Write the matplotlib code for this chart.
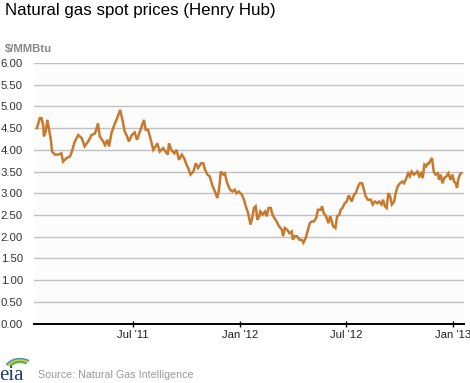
import matplotlib
matplotlib.use("Agg")
import matplotlib.pyplot as plt
import numpy as np
import pandas as pd
from matplotlib.patches import Arc

dates = [
    "2011-01-17", "2011-01-22", "2011-01-25", "2011-01-28", "2011-01-29", "2011-02-01",
    "2011-02-04", "2011-02-07", "2011-02-10", "2011-02-12", "2011-02-17", "2011-02-23",
    "2011-02-28", "2011-03-03", "2011-03-09", "2011-03-15", "2011-03-19", "2011-03-23",
    "2011-03-29", "2011-04-04", "2011-04-09", "2011-04-15", "2011-04-21", "2011-04-27",
    "2011-05-02", "2011-05-05", "2011-05-11", "2011-05-14", "2011-05-18", "2011-05-21",
    "2011-05-25", "2011-05-31", "2011-06-04", "2011-06-09", "2011-06-13", "2011-06-17",
    "2011-06-21", "2011-06-24", "2011-06-29", "2011-07-04", "2011-07-08", "2011-07-13",
    "2011-07-17", "2011-07-20", "2011-07-23", "2011-07-27", "2011-07-31", "2011-08-05",
    "2011-08-09", "2011-08-12", "2011-08-16", "2011-08-22", "2011-08-26", "2011-08-30",
    "2011-09-01", "2011-09-05", "2011-09-10", "2011-09-14", "2011-09-18", "2011-09-23",
    "2011-09-27", "2011-10-01", "2011-10-04", "2011-10-08", "2011-10-13", "2011-10-17",
    "2011-10-21", "2011-10-26", "2011-10-30", "2011-11-02", "2011-11-06", "2011-11-10",
    "2011-11-14", "2011-11-19", "2011-11-23", "2011-11-26", "2011-11-29", "2011-12-03",
    "2011-12-06", "2011-12-10", "2011-12-15", "2011-12-19", "2011-12-23", "2011-12-26",
    "2011-12-30", "2012-01-04", "2012-01-08", "2012-01-11", "2012-01-15", "2012-01-19",
    "2012-01-22", "2012-01-25", "2012-01-28", "2012-01-31", "2012-02-03", "2012-02-05",
    "2012-02-09", "2012-02-13", "2012-02-16", "2012-02-19", "2012-02-23", "2012-02-25",
    "2012-02-29", "2012-03-04", "2012-03-08", "2012-03-13", "2012-03-15", "2012-03-18",
    "2012-03-22", "2012-03-26", "2012-03-30", "2012-04-01", "2012-04-04", "2012-04-08",
    "2012-04-12", "2012-04-16", "2012-04-19", "2012-04-23", "2012-04-26", "2012-04-30",
    "2012-05-03", "2012-05-07", "2012-05-11", "2012-05-14", "2012-05-19", "2012-05-21",
    "2012-05-24", "2012-05-28", "2012-06-01", "2012-06-04", "2012-06-06", "2012-06-09",
    "2012-06-13", "2012-06-16", "2012-06-20", "2012-06-22", "2012-06-25", "2012-06-29",
    "2012-07-02", "2012-07-06", "2012-07-11", "2012-07-15", "2012-07-18", "2012-07-22",
    "2012-07-25", "2012-07-29", "2012-08-01", "2012-08-04", "2012-08-08", "2012-08-13",
    "2012-08-16", "2012-08-20", "2012-08-24", "2012-08-27", "2012-08-31", "2012-09-03",
    "2012-09-06", "2012-09-09", "2012-09-12", "2012-09-15", "2012-09-18", "2012-09-22",
    "2012-09-24", "2012-09-28", "2012-10-02", "2012-10-06", "2012-10-09", "2012-10-13",
    "2012-10-16", "2012-10-19", "2012-10-22", "2012-10-26", "2012-10-29", "2012-11-01",
    "2012-11-04", "2012-11-07", "2012-11-10", "2012-11-13", "2012-11-16", "2012-11-19",
    "2012-11-21", "2012-11-24", "2012-11-26", "2012-11-29", "2012-12-02", "2012-12-06",
    "2012-12-08", "2012-12-11", "2012-12-14", "2012-12-17", "2012-12-21", "2012-12-24",
    "2012-12-28", "2012-12-31", "2013-01-03", "2013-01-06", "2013-01-08", "2013-01-10",
    "2013-01-13", "2013-01-15",
]

prices = [
    4.50, 4.73, 4.73, 4.54, 4.31, 4.42,
    4.69, 4.46, 4.23, 3.96, 3.89, 3.89,
    3.92, 3.73, 3.81, 3.85, 4.00, 4.19,
    4.34, 4.27, 4.08, 4.19, 4.34, 4.38,
    4.61, 4.31, 4.19, 4.11, 4.23, 4.08,
    4.38, 4.61, 4.73, 4.92, 4.69, 4.42,
    4.31, 4.19, 4.34, 4.40, 4.23, 4.42,
    4.57, 4.69, 4.46, 4.46, 4.27, 4.00,
    4.08, 4.15, 3.96, 4.04, 3.96, 3.89,
    4.15, 4.00, 3.92, 4.00, 3.77, 3.89,
    3.81, 3.66, 3.58, 3.43, 3.50, 3.69,
    3.58, 3.69, 3.69, 3.54, 3.43, 3.39,
    3.20, 3.04, 2.89, 3.08, 3.50, 3.43,
    3.46, 3.23, 3.08, 3.04, 3.08, 3.00,
    3.04, 2.97, 2.85, 2.70, 2.54, 2.28,
    2.43, 2.66, 2.70, 2.39, 2.47, 2.58,
    2.51, 2.58, 2.47, 2.66, 2.66, 2.54,
    2.43, 2.35, 2.24, 2.16, 2.01, 2.20,
    2.16, 2.08, 2.12, 1.93, 2.01, 2.01,
    1.93, 1.93, 1.86, 1.97, 2.12, 2.31,
    2.35, 2.35, 2.43, 2.62, 2.62, 2.70,
    2.54, 2.47, 2.31, 2.47, 2.39, 2.24,
    2.20, 2.47, 2.51, 2.62, 2.66, 2.77,
    2.80, 2.95, 2.81, 2.97, 3.00, 3.16,
    3.23, 3.23, 3.08, 2.93, 2.85, 2.85,
    2.74, 2.81, 2.77, 2.81, 2.74, 2.85,
    2.70, 2.66, 3.00, 2.93, 2.74, 2.81,
    2.97, 3.16, 3.23, 3.27, 3.23, 3.35,
    3.46, 3.39, 3.50, 3.43, 3.46, 3.50,
    3.39, 3.46, 3.35, 3.66, 3.62, 3.69,
    3.69, 3.77, 3.81, 3.50, 3.43, 3.46,
    3.31, 3.43, 3.23, 3.35, 3.39, 3.46,
    3.31, 3.43, 3.27, 3.23, 3.12, 3.31,
    3.43, 3.46,
]

x_range = ["2011-01-12", "2013-01-20"]
tick_dates = ["2011-07-01", "2012-01-01", "2012-07-01", "2013-01-01"]
tick_labels = ["Jul '11", "Jan '12", "Jul '12", "Jan '13"]
y_ticks = [0.0, 0.5, 1.0, 1.5, 2.0, 2.5, 3.0, 3.5, 4.0, 4.5, 5.0, 5.5, 6.0]

plt.rcParams['font.family'] = ['Liberation Sans', 'DejaVu Sans']

W, H = 470, 383
fig = plt.figure(figsize=(W / 100, H / 100), dpi=100)
fig.patch.set_facecolor('white')

left, right, top, bottom = 34, 464, 63, 323.5
ax = fig.add_axes([left / W, 1 - bottom / H, (right - left) / W, (bottom - top) / H])
ax.set_facecolor('#fcfcfc')

x = pd.to_datetime(dates)
ax.plot(x, prices, color='#c8792c', linewidth=1.8, solid_joinstyle='miter')

ax.set_xlim(pd.Timestamp(x_range[0]), pd.Timestamp(x_range[1]))
ax.set_ylim(0, 6)
ax.set_yticks(y_ticks)
ax.set_yticklabels([f"{v:.2f}" for v in y_ticks])
ax.set_xticks(pd.to_datetime(tick_dates))
ax.set_xticklabels(tick_labels)

ax.grid(axis='y', color='#c0c0c0', linewidth=1.0)
ax.set_axisbelow(True)
for s in ['top', 'right', 'left']:
    ax.spines[s].set_visible(False)
ax.spines['bottom'].set_color('black')
ax.spines['bottom'].set_linewidth(1.4)
ax.spines['bottom'].set_zorder(5)

ax.tick_params(axis='y', length=0, pad=8, labelsize=8.2, labelcolor='#333333')
ax.tick_params(axis='x', length=5, width=1, color='black', direction='inout',
               pad=2, labelsize=8.2, labelcolor='#222222')

fig.text(5 / W, 1 - 11 / H, "Natural gas spot prices (Henry Hub)", fontsize=12.2,
         color='black', ha='left', va='center')
fig.text(5 / W, 1 - 49 / H, "$/MMBtu", fontsize=8.2, color='#888888',
         fontweight='bold', ha='left', va='center')
fig.text(38 / W, 1 - 375 / H, "Source: Natural Gas Intelligence", fontsize=7.7,
         color='#999999', ha='left', va='center')

# EIA logo
fig.text(-1 / W, 1 - 375 / H, "eia", fontsize=15, family='Liberation Serif',
         color='#1b3c6e', ha='left', va='center')
lax = fig.add_axes([0, 1 - 370 / H, 30 / W, 14 / H])
lax.set_xlim(0, 30)
lax.set_ylim(0, 14)
lax.axis('off')
for (cx, cy, w, h, col) in [(20, 0, 30, 22, '#2e9bd6'), (20, 0, 26, 19, '#f2c12e'), (20, 0, 22, 16, '#5cb04a')]:
    lax.add_patch(Arc((cx, cy), w, h, theta1=45, theta2=160, color=col, linewidth=1.6))

fig.savefig("out.png", dpi=100)
